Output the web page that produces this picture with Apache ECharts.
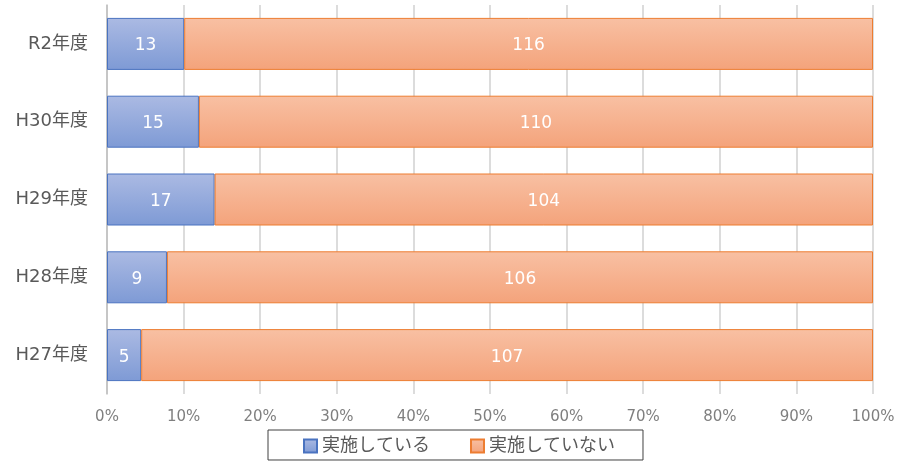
<!DOCTYPE html>
<html>
<head>
<meta charset="utf-8">
<script src="https://cdn.jsdelivr.net/npm/echarts@6/dist/echarts.min.js"></script>
<style>
html,body{margin:0;padding:0;background:#fff;}
#chart{width:900px;height:463px;}
</style>
</head>
<body>
<div id="chart"></div>
<script>
// Survey years, top to bottom
const categories = ['R2年度', 'H30年度', 'H29年度', 'H28年度', 'H27年度'];
// Counts per year
const implemented = [13, 15, 17, 9, 5];
const notImplemented = [116, 110, 104, 106, 107];
const seriesNames = ['実施している', '実施していない'];
const xTicks = [0, 10, 20, 30, 40, 50, 60, 70, 80, 90, 100];

const FONT = '"DejaVu Sans", "Noto Sans CJK JP", sans-serif';

// Share of each year's total, in percent
function share(part, i) {
  return part[i] / (implemented[i] + notImplemented[i]) * 100;
}

function grad(top, bottom) {
  return new echarts.graphic.LinearGradient(0, 0, 0, 1, [
    { offset: 0, color: top },
    { offset: 1, color: bottom }
  ]);
}

function makeSeries(name, counts, top, bottom, border) {
  return {
    name: name,
    type: 'bar',
    stack: 'total',
    barWidth: 52,
    data: counts.map((c, i) => ({ value: share(counts, i), count: c })),
    itemStyle: { color: grad(top, bottom), borderColor: border, borderWidth: 1 },
    label: {
      show: true,
      position: 'inside',
      color: '#ffffff',
      fontSize: 17,
      fontFamily: FONT,
      offset: [0, 2],
      formatter: p => String(p.data.count)
    },
    emphasis: { disabled: true }
  };
}

const chart = echarts.init(document.getElementById('chart'), null, { renderer: 'canvas' });
chart.setOption({
  animation: false,
  grid: { left: 107, right: 27, top: 5, bottom: 69, containLabel: false },
  xAxis: {
    type: 'value',
    min: xTicks[0],
    max: xTicks[xTicks.length - 1],
    interval: 10,
    axisLine: { show: false },
    axisTick: { show: false },
    splitLine: { show: true, lineStyle: { color: '#d0d0d0', width: 1.5 } },
    axisLabel: {
      formatter: '{value}%',
      color: '#7f7f7f',
      fontSize: 15,
      fontFamily: FONT,
      margin: 16
    }
  },
  yAxis: {
    type: 'category',
    data: categories,
    inverse: true,
    axisLine: { show: true, lineStyle: { color: '#bfbfbf', width: 1.5 } },
    axisTick: { show: false },
    axisLabel: {
      color: '#595959',
      fontSize: 18,
      fontFamily: FONT,
      padding: [6, 0, 0, 0],
      margin: 19
    }
  },
  legend: {
    data: seriesNames,
    left: 268,
    top: 430,
    padding: [7, 28, 5, 35],
    borderColor: '#404040',
    borderWidth: 1,
    itemWidth: 13,
    itemHeight: 13,
    itemGap: 40,
    icon: 'rect',
    textStyle: { color: '#595959', fontSize: 18, fontFamily: FONT }
  },
  series: [
    makeSeries(seriesNames[0], implemented, '#abbae3', '#7e9ad5', '#4a73c0'),
    makeSeries(seriesNames[1], notImplemented, '#f8c0a3', '#f4a37b', '#ed7d31')
  ]
});
</script>
</body>
</html>
